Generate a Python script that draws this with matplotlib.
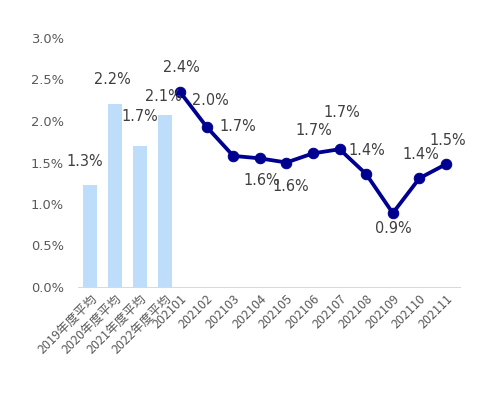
import numpy as np
import matplotlib
matplotlib.use("Agg")
import matplotlib.pyplot as plt

plt.rcParams['font.family'] = ['DejaVu Sans', 'Noto Sans CJK JP']

# ---- data ----
bar_categories = ['2019年度平均', '2020年度平均', '2021年度平均', '2022年度平均']
bar_values = [1.23, 2.20, 1.70, 2.07]
bar_labels = ['1.3%', '2.2%', '1.7%', '2.1%']

line_categories = ['202101', '202102', '202103', '202104', '202105', '202106',
                   '202107', '202108', '202109', '202110', '202111']
line_values = [2.35, 1.93, 1.58, 1.55, 1.50, 1.61, 1.66, 1.36, 0.89, 1.31, 1.48]
line_labels = ['2.4%', '2.0%', '1.7%', '1.6%', '1.6%', '1.7%', '1.7%', '1.4%',
               '0.9%', '1.4%', '1.5%']

yticks = [0.0, 0.5, 1.0, 1.5, 2.0, 2.5, 3.0]

# ---- layout ----
bar_x = np.arange(len(bar_values))
line_x = 3.6 + 1.064 * np.arange(len(line_values))

# label offsets (pixels; dpi=72 so points == pixels)
bar_off = [(-5, 23), (-3, 25), (-0.5, 29), (-2, 19)]
line_off = [(1, 24), (4, 26), (5, 29), (2, -22), (4, -24), (1, 23), (2, 37),
            (1, 24), (1, -15), (1, 24), (2, 24)]

fig = plt.figure(figsize=(480 / 72, 395 / 72), dpi=72)
ax = fig.add_axes([78 / 480, 1 - 287 / 395, (460 - 78) / 480, (287 - 38) / 395])

text_color = '#595959'
ax.bar(bar_x, bar_values, width=0.56, color='#BDDDFB', zorder=2)
ax.plot(line_x, line_values, color='#000090', lw=3.8, marker='o', ms=10.5,
        zorder=3, solid_capstyle='round')

for x, v, lab, (dx, dy) in zip(bar_x, bar_values, bar_labels, bar_off):
    ax.annotate(lab, (x, v), xytext=(dx, dy), textcoords='offset points',
                ha='center', va='center', fontsize=14.5, color='#404040', zorder=5)
for x, v, lab, (dx, dy) in zip(line_x, line_values, line_labels, line_off):
    ax.annotate(lab, (x, v), xytext=(dx, dy), textcoords='offset points',
                ha='center', va='center', fontsize=14.5, color='#404040', zorder=5)

ax.set_xlim(-0.48, 14.8)
ax.set_ylim(0, 3.0)
ax.set_yticks(yticks)
ax.set_yticklabels([f'{t:.1f}%' for t in yticks], fontsize=13, color=text_color)

ax.set_xticks(np.concatenate([bar_x, line_x]))
ax.set_xticklabels(bar_categories + line_categories, rotation=45, ha='right',
                   rotation_mode='anchor', fontsize=12.5, color=text_color,
                   family=['Noto Sans CJK JP', 'DejaVu Sans'])
ax.tick_params(axis='y', length=0, pad=14)
ax.tick_params(axis='x', length=0, pad=5)

for s in ['top', 'right', 'left']:
    ax.spines[s].set_visible(False)
ax.spines['bottom'].set_color('#D9D9D9')
ax.spines['bottom'].set_linewidth(1)

fig.savefig('out.png', dpi=72)
